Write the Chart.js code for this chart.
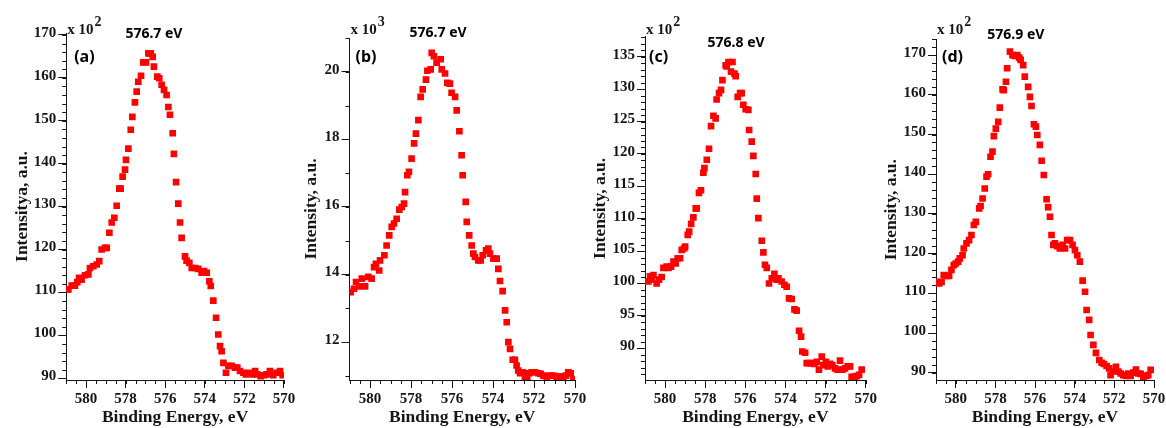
<!DOCTYPE html>
<html>
<head>
<meta charset="utf-8">
<script src="https://cdn.jsdelivr.net/npm/chart.js@4.4.1/dist/chart.umd.min.js"></script>
<style>
  body { margin: 0; background: #fff; }
  .wrap { position: relative; width: 1166px; height: 428px; }
  .wrap canvas { position: absolute; left: 0; top: 0; }
</style>
</head>
<body>
<div class="wrap">
  <canvas id="ca" width="1166" height="428"></canvas>
  <canvas id="cb" width="1166" height="428"></canvas>
  <canvas id="cc" width="1166" height="428"></canvas>
  <canvas id="cd" width="1166" height="428"></canvas>
</div>
<script>
// binding energy ticks, same on every panel
const xTicks = [580, 578, 576, 574, 572, 570]

// (a) intensity x 10^2
const energyA = [580.97, 580.89, 580.72, 580.56, 580.44, 580.35, 580.22, 580.05, 579.88, 579.80, 579.63,
  579.46, 579.33, 579.21, 579.04, 578.95, 578.82, 578.70, 578.57, 578.45, 578.32, 578.25, 578.15, 578.03,
  577.98, 577.86, 577.74, 577.66, 577.53, 577.44, 577.36, 577.22, 577.11, 576.97, 576.85, 576.73, 576.63,
  576.57, 576.40, 576.30, 576.18, 576.06, 575.93, 575.84, 575.76, 575.62, 575.56, 575.45, 575.34, 575.25,
  575.17, 575.00, 574.92, 574.78, 574.66, 574.49, 574.33, 574.16, 574.04, 573.90, 573.77, 573.70, 573.57,
  573.43, 573.32, 573.23, 573.15, 573.06, 572.93, 572.81, 572.64, 572.47, 572.36, 572.22, 572.05, 571.92,
  571.75, 571.58, 571.46, 571.35, 571.18, 571.01, 570.88, 570.71, 570.54, 570.37, 570.20, 570.07]
const intensityA = [110.7, 110.7, 111.6, 111.6, 112.4, 113.4, 113.0, 114.0, 114.2, 115.7, 116.1,
  116.5, 117.3, 120.0, 120.4, 120.4, 123.9, 126.3, 127.4, 130.2, 134.2, 134.2, 137.0, 138.6,
  140.9, 143.5, 147.9, 150.9, 154.3, 156.8, 159.1, 160.5, 163.6, 163.6, 165.7, 165.7, 164.9,
  162.6, 160.3, 159.9, 158.4, 157.2, 156.0, 153.2, 151.4, 147.1, 142.3, 135.7, 130.7, 126.3,
  122.7, 118.4, 117.4, 116.9, 115.7, 115.7, 115.5, 114.6, 115.0, 114.6, 112.6, 111.5, 108.1,
  104.1, 100.2, 97.5, 96.3, 93.6, 91.3, 92.9, 92.9, 92.5, 92.5, 91.7, 91.3, 90.9,
  91.3, 90.9, 91.7, 90.9, 90.5, 90.7, 90.9, 91.7, 90.7, 91.3, 91.7, 90.7]
const yTicksA = [90, 100, 110, 120, 130, 140, 150, 160, 170]

// (b) intensity x 10^3
const energyB = [580.94, 580.78, 580.68, 580.52, 580.40, 580.24, 580.08, 579.92, 579.80, 579.71,
  579.55, 579.51, 579.30, 579.19, 579.06, 578.94, 578.83, 578.70, 578.57, 578.45,
  578.34, 578.29, 578.18, 578.10, 577.97, 577.85, 577.76, 577.64, 577.53, 577.43,
  577.27, 577.20, 577.04, 576.99, 576.88, 576.75, 576.55, 576.50, 576.34, 576.23,
  576.10, 576.02, 575.85, 575.77, 575.64, 575.53, 575.48, 575.33, 575.28, 575.16,
  575.04, 574.96, 574.88, 574.72, 574.60, 574.50, 574.34, 574.23, 574.15, 573.98,
  573.82, 573.74, 573.66, 573.53, 573.41, 573.33, 573.25, 573.17, 573.04, 572.93,
  572.85, 572.77, 572.68, 572.55, 572.44, 572.33, 572.23, 572.11, 571.95, 571.79,
  571.67, 571.54, 571.38, 571.22, 571.06, 570.89, 570.77, 570.65, 570.57, 570.44,
  570.33, 570.21, 570.08]
const intensityB = [13.48, 13.58, 13.78, 13.65, 13.88, 13.65, 13.93, 13.88, 14.22, 14.32,
  14.12, 14.42, 14.57, 14.86, 15.16, 15.41, 15.51, 15.65, 15.92, 16.00,
  16.10, 16.44, 16.94, 17.04, 17.43, 17.88, 18.17, 18.57, 19.26, 19.48,
  19.77, 20.03, 20.07, 20.56, 20.46, 20.27, 20.37, 20.07, 19.95, 19.67,
  19.65, 19.38, 19.26, 18.86, 18.24, 17.53, 16.94, 16.15, 15.56, 15.16,
  14.86, 14.62, 14.52, 14.42, 14.42, 14.57, 14.72, 14.77, 14.62, 14.47,
  14.47, 14.17, 13.81, 13.51, 12.94, 12.59, 12.00, 11.80, 11.48, 11.48,
  11.31, 11.16, 11.08, 11.11, 10.91, 10.98, 11.08, 11.11, 11.11, 11.08,
  11.06, 11.01, 10.98, 11.01, 11.01, 10.98, 10.98, 10.96, 10.98, 11.01,
  11.11, 11.08, 10.91]
const yTicksB = [12, 14, 16, 18, 20]

// (c) intensity x 10^2
const energyC = [580.83, 580.75, 580.66, 580.58, 580.42, 580.30, 580.17, 580.08, 579.92, 579.83,
  579.70, 579.58, 579.47, 579.37, 579.25, 579.17, 579.05, 579.00, 578.87, 578.80,
  578.70, 578.59, 578.47, 578.42, 578.31, 578.21, 578.09, 578.04, 577.92, 577.81,
  577.71, 577.59, 577.48, 577.43, 577.31, 577.21, 577.14, 576.98, 576.93, 576.84,
  576.71, 576.64, 576.54, 576.48, 576.38, 576.26, 576.18, 576.10, 575.98, 575.85,
  575.81, 575.68, 575.60, 575.48, 575.43, 575.35, 575.18, 575.10, 575.02, 574.93,
  574.82, 574.68, 574.55, 574.44, 574.35, 574.19, 574.05, 573.94, 573.82, 573.69,
  573.55, 573.44, 573.32, 573.22, 573.16, 573.02, 572.94, 572.82, 572.69, 572.56,
  572.44, 572.33, 572.19, 572.11, 571.99, 571.89, 571.78, 571.66, 571.53, 571.40,
  571.28, 571.16, 571.03, 570.90, 570.78, 570.70, 570.56, 570.45, 570.33, 570.20]
const intensityC = [100.3, 101.1, 100.6, 101.3, 100.0, 100.6, 101.0, 102.4, 102.6, 102.4,
  102.6, 103.4, 103.1, 103.9, 103.9, 105.2, 105.4, 105.7, 107.5, 108.0,
  109.2, 110.2, 111.6, 111.6, 114.0, 114.4, 117.1, 117.8, 119.1, 120.8,
  124.3, 125.9, 125.5, 128.4, 129.4, 129.9, 131.4, 133.7, 133.5, 134.2,
  132.7, 134.2, 132.4, 132.0, 128.8, 129.4, 129.4, 127.6, 126.9, 126.8,
  123.7, 121.9, 119.7, 116.9, 113.1, 110.1, 106.6, 104.8, 102.9, 102.4,
  100.0, 100.8, 101.5, 100.6, 100.8, 100.3, 99.8, 99.5, 97.7, 97.6,
  96.0, 95.8, 92.7, 91.8, 89.5, 89.3, 87.7, 87.7, 87.7, 87.6,
  87.9, 86.7, 88.7, 87.4, 87.9, 87.2, 87.6, 87.4, 86.9, 86.7,
  88.1, 86.7, 86.9, 87.2, 87.2, 85.6, 85.6, 85.7, 85.9, 86.7]
const yTicksC = [90, 95, 100, 105, 110, 115, 120, 125, 130, 135]

// (d) intensity x 10^2
const energyD = [580.98, 580.84, 580.72, 580.61, 580.47, 580.34, 580.22, 580.10, 580.00, 579.88,
  579.80, 579.66, 579.60, 579.46, 579.33, 579.21, 579.09, 578.99, 578.82, 578.75,
  578.65, 578.54, 578.45, 578.37, 578.25, 578.15, 578.08, 577.98, 577.86, 577.78,
  577.64, 577.58, 577.47, 577.41, 577.27, 577.14, 577.02, 576.90, 576.80, 576.73,
  576.60, 576.52, 576.35, 576.26, 576.18, 576.06, 575.96, 575.89, 575.76, 575.67,
  575.56, 575.42, 575.34, 575.25, 575.17, 575.08, 575.00, 574.88, 574.75, 574.61,
  574.49, 574.38, 574.24, 574.11, 573.99, 573.87, 573.74, 573.60, 573.48, 573.40,
  573.27, 573.20, 573.06, 572.93, 572.76, 572.64, 572.53, 572.39, 572.26, 572.19,
  572.05, 571.92, 571.80, 571.68, 571.55, 571.41, 571.30, 571.18, 571.04, 570.91,
  570.79, 570.67, 570.54, 570.40, 570.29, 570.17]
const intensityD = [112.9, 112.5, 112.9, 114.6, 114.4, 114.4, 115.9, 117.1, 117.5, 118.0,
  118.8, 119.6, 121.3, 122.6, 123.4, 124.7, 127.2, 128.0, 131.4, 132.0,
  133.9, 136.4, 139.4, 140.0, 144.4, 145.7, 149.6, 151.5, 153.2, 156.8,
  161.4, 161.2, 163.3, 166.7, 170.9, 170.0, 169.8, 170.0, 169.4, 168.8,
  167.5, 164.6, 162.0, 159.5, 157.2, 152.6, 152.0, 149.9, 147.4, 143.4,
  139.8, 133.7, 131.7, 129.3, 124.7, 122.2, 122.6, 121.9, 121.3, 122.2,
  121.3, 123.4, 123.4, 122.2, 120.9, 119.6, 118.0, 113.2, 110.4, 105.8,
  103.3, 99.5, 97.0, 95.0, 93.2, 92.5, 92.2, 91.7, 91.1, 89.4,
  90.3, 91.5, 90.3, 89.8, 89.4, 89.2, 89.8, 89.2, 90.0, 90.8,
  89.8, 89.7, 89.0, 89.2, 89.4, 90.7]
const yTicksD = [90, 100, 110, 120, 130, 140, 150, 160, 170]

const peakLabels = ['576.7 eV', '576.7 eV', '576.8 eV', '576.9 eV']
const panelLetters = ['(a)', '(b)', '(c)', '(d)']
const yTitles = ['Intensitya, a.u.', 'Intensity, a.u.', 'Intensity, a.u.', 'Intensity, a.u.']
const exponents = ['2', '3', '2', '2']

const ink = '#151515'
const serif = "'Liberation Serif', 'Times New Roman', serif"
const Y_W = 60   // width given to each y axis box
const X_H = 48   // height of each x axis box
const TITLE_SIZE = 17.5

// minor ticks, the "x 10^n" note, peak label and panel letter
const decor = {
    id: 'decor',
    afterDraw(chart, args, o) {
        const { ctx, chartArea: a, scales: { x, y } } = chart
        ctx.save()
        ctx.strokeStyle = ink
        ctx.lineWidth = 1
        ctx.beginPath()
        const ny = Math.floor((y.max - y.min) / o.yMinor) + 1
        const y0 = Math.ceil(y.min / o.yMinor) * o.yMinor
        for (let i = 0; i < ny; i++) {
            const v = y0 + i * o.yMinor
            if (v > y.max) break
            const py = Math.round(y.getPixelForValue(v)) + 0.5
            ctx.moveTo(a.left - 4, py)
            ctx.lineTo(a.left, py)
        }
        const nx = Math.round((x.max - x.min) / o.xMinor)
        for (let i = 0; i <= nx; i++) {
            const px = Math.round(x.getPixelForValue(x.min + i * o.xMinor)) + 0.5
            ctx.moveTo(px, a.bottom)
            ctx.lineTo(px, a.bottom + 4)
        }
        ctx.stroke()

        ctx.fillStyle = ink
        ctx.textAlign = 'left'
        ctx.textBaseline = 'alphabetic'
        ctx.font = 'bold 15px ' + serif
        ctx.fillText('x 10', a.left + 1, 34)
        const w = ctx.measureText('x 10').width
        ctx.font = 'bold 14px ' + serif
        ctx.fillText(o.exp, a.left + 2 + w, 26)

        ctx.font = "bold 14px 'Noto Sans', sans-serif"
        ctx.textAlign = 'center'
        ctx.textBaseline = 'middle'
        ctx.fillStyle = '#000'
        ctx.fillText(o.peak, x.getPixelForValue(o.peakAt), o.peakY)

        ctx.font = "bold 16px 'Noto Sans', sans-serif"
        ctx.textAlign = 'left'
        ctx.fillText(o.letter, a.left + o.letterDx, 57)
        ctx.restore()
    }
}

const panels = [
    { id: 'ca', energy: energyA, intensity: intensityA, yTicks: yTicksA, yMin: 89.6, yMax: 170.45, yMinor: 2,
      left: 66.2, right: 284, top: 33, titleX: 22, peakAt: 576.57, peakY: 34.5, letterDx: 8 },
    { id: 'cb', energy: energyB, intensity: intensityB, yTicks: yTicksB, yMin: 10.88, yMax: 21.0, yMinor: 1,
      left: 349.5, right: 575, top: 38, titleX: 311.7, peakAt: 576.68, peakY: 33, letterDx: 6 },
    { id: 'cc', energy: energyC, intensity: intensityC, yTicks: yTicksC, yMin: 85.1, yMax: 138.1, yMinor: 1,
      left: 645, right: 865.7, top: 36.7, titleX: 600, peakAt: 576.46, peakY: 43, letterDx: 4 },
    { id: 'cd', energy: energyD, intensity: intensityD, yTicks: yTicksD, yMin: 88.16, yMax: 174, yMinor: 2,
      left: 936, right: 1154, top: 39.3, titleX: 891.7, peakAt: 576.97, peakY: 35, letterDx: 6 }
]

function dropPadding(s) {
    s.paddingLeft = 0; s.paddingRight = 0; s.paddingTop = 0; s.paddingBottom = 0
}

panels.forEach((p, k) => {
    const pts = p.energy.map((e, i) => ({ x: e, y: p.intensity[i] }))
    new Chart(document.getElementById(p.id), {
        type: 'scatter',
        data: {
            datasets: [{
                data: pts,
                pointStyle: 'rect',
                pointRadius: 4.7,
                pointBorderWidth: 0,
                backgroundColor: '#ff0000',
                borderColor: '#ff0000'
            }]
        },
        plugins: [decor],
        options: {
            responsive: false,
            animation: false,
            events: [],
            layout: { padding: { left: p.left - Y_W, right: 1166 - p.right, top: p.top, bottom: 0 } },
            plugins: {
                legend: { display: false },
                tooltip: { enabled: false },
                decor: { yMinor: p.yMinor, xMinor: 0.5, exp: exponents[k], peak: peakLabels[k],
                         peakAt: p.peakAt, peakY: p.peakY, letter: panelLetters[k], letterDx: p.letterDx }
            },
            scales: {
                x: {
                    type: 'linear', min: 570, max: 581, reverse: true,
                    afterFit: s => { s.height = X_H; dropPadding(s) },
                    afterBuildTicks: s => { s.ticks = xTicks.map(v => ({ value: v })) },
                    grid: { drawOnChartArea: false, tickLength: 8, color: ink },
                    border: { color: ink, width: 1 },
                    ticks: { font: { family: serif, weight: 'bold', size: 15 }, color: ink,
                             padding: 2, maxRotation: 0, autoSkip: false },
                    title: { display: true, text: 'Binding Energy, eV', color: ink,
                             font: { family: serif, weight: 'bold', size: TITLE_SIZE },
                             padding: { top: 0, bottom: 0.5 } }
                },
                y: {
                    type: 'linear', min: p.yMin, max: p.yMax,
                    afterFit: s => { s.width = Y_W; dropPadding(s) },
                    afterBuildTicks: s => { s.ticks = p.yTicks.map(v => ({ value: v })) },
                    grid: { drawOnChartArea: false, tickLength: 8, color: ink },
                    border: { color: ink, width: 1 },
                    ticks: { font: { family: serif, weight: 'bold', size: 15 }, color: ink,
                             padding: 2, labelOffset: -2, autoSkip: false },
                    title: { display: true, text: yTitles[k], color: ink,
                             font: { family: serif, weight: 'bold', size: TITLE_SIZE },
                             padding: { top: p.titleX - (p.left - Y_W) - TITLE_SIZE * 0.6, bottom: 0 } }
                }
            }
        }
    })
})
</script>
</body>
</html>
